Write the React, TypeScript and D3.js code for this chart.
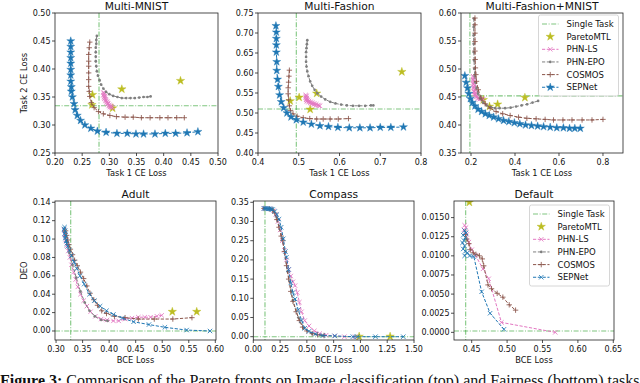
import React, { useEffect } from 'react';
import * as d3 from 'd3';

type Pt = [number, number];
type MarkerType = 'star' | 'x' | 'plus' | 'dot';

// ---------------- Multi-MNIST ----------------
const mnistSingle: Pt = [0.281, 0.3345];
const mnistPareto: Pt[] = [[0.269, 0.354], [0.268, 0.336], [0.306, 0.330], [0.323, 0.364], [0.431, 0.379]];
const mnistLS: Pt[] = [[0.289, 0.358], [0.291, 0.357], [0.290, 0.355], [0.289, 0.353], [0.292, 0.352], [0.290, 0.350], [0.292, 0.349], [0.291, 0.347], [0.293, 0.346], [0.294, 0.344], [0.293, 0.343], [0.296, 0.342], [0.295, 0.340], [0.297, 0.339], [0.298, 0.338], [0.297, 0.337], [0.300, 0.336], [0.299, 0.334], [0.302, 0.334], [0.301, 0.332], [0.304, 0.333], [0.303, 0.331], [0.306, 0.331]];
const mnistEPO: Pt[] = [[0.277, 0.459], [0.276, 0.452], [0.276, 0.445], [0.275, 0.438], [0.275, 0.430], [0.275, 0.422], [0.275, 0.414], [0.276, 0.405], [0.277, 0.396], [0.279, 0.388], [0.282, 0.380], [0.285, 0.372], [0.289, 0.365], [0.294, 0.359], [0.300, 0.355], [0.307, 0.352], [0.315, 0.350], [0.323, 0.348], [0.331, 0.348], [0.339, 0.348], [0.347, 0.348], [0.355, 0.349], [0.363, 0.350], [0.370, 0.350], [0.376, 0.351]];
const mnistCOS: Pt[] = [[0.264, 0.448], [0.263, 0.438], [0.262, 0.426], [0.262, 0.414], [0.262, 0.405], [0.262, 0.393], [0.262, 0.381], [0.262, 0.369], [0.263, 0.360], [0.264, 0.351], [0.267, 0.340], [0.272, 0.331], [0.280, 0.324], [0.289, 0.320], [0.301, 0.317], [0.313, 0.315], [0.329, 0.314], [0.344, 0.314], [0.359, 0.313], [0.375, 0.313], [0.393, 0.313], [0.408, 0.313], [0.424, 0.313], [0.438, 0.313]];
const mnistSEP: Pt[] = [[0.229, 0.450], [0.229, 0.440], [0.229, 0.430], [0.229, 0.420], [0.229, 0.410], [0.229, 0.399], [0.229, 0.389], [0.229, 0.378], [0.230, 0.368], [0.230, 0.360], [0.232, 0.350], [0.235, 0.338], [0.237, 0.327], [0.241, 0.317], [0.247, 0.308], [0.255, 0.300], [0.266, 0.294], [0.278, 0.289], [0.294, 0.287], [0.314, 0.285], [0.333, 0.285], [0.349, 0.284], [0.363, 0.284], [0.384, 0.284], [0.403, 0.285], [0.422, 0.285], [0.443, 0.286], [0.463, 0.288]];
const mnistXTicks = [0.2, 0.25, 0.3, 0.35, 0.4, 0.45, 0.5];
const mnistYTicks = [0.25, 0.3, 0.35, 0.4, 0.45, 0.5];

// ---------------- Multi-Fashion ----------------
const fashionSingle: Pt = [0.494, 0.51];
const fashionPareto: Pt[] = [[0.479, 0.530], [0.501, 0.539], [0.544, 0.549], [0.528, 0.509], [0.753, 0.603]];
const fashionLS: Pt[] = [[0.517, 0.545], [0.519, 0.543], [0.518, 0.541], [0.517, 0.538], [0.520, 0.537], [0.519, 0.535], [0.518, 0.533], [0.522, 0.533], [0.521, 0.531], [0.520, 0.529], [0.525, 0.530], [0.524, 0.527], [0.529, 0.528], [0.528, 0.525], [0.533, 0.526], [0.532, 0.523], [0.538, 0.524], [0.537, 0.521], [0.543, 0.522], [0.542, 0.519], [0.548, 0.520], [0.549, 0.518], [0.552, 0.518]];
const fashionEPO: Pt[] = [[0.521, 0.682], [0.520, 0.672], [0.519, 0.662], [0.518, 0.652], [0.518, 0.640], [0.518, 0.628], [0.519, 0.616], [0.521, 0.604], [0.524, 0.592], [0.528, 0.579], [0.533, 0.568], [0.539, 0.558], [0.546, 0.549], [0.555, 0.541], [0.565, 0.534], [0.577, 0.528], [0.590, 0.524], [0.604, 0.521], [0.618, 0.519], [0.633, 0.518], [0.648, 0.518], [0.663, 0.518], [0.677, 0.519], [0.683, 0.519]];
const fashionCOS: Pt[] = [[0.477, 0.607], [0.476, 0.592], [0.475, 0.577], [0.474, 0.563], [0.474, 0.548], [0.475, 0.533], [0.477, 0.518], [0.480, 0.506], [0.486, 0.498], [0.496, 0.492], [0.511, 0.488], [0.527, 0.486], [0.544, 0.485], [0.560, 0.485], [0.577, 0.485], [0.597, 0.485], [0.622, 0.486]];
const fashionSEP: Pt[] = [[0.444, 0.718], [0.445, 0.702], [0.445, 0.686], [0.445, 0.670], [0.445, 0.652], [0.446, 0.628], [0.446, 0.606], [0.448, 0.584], [0.450, 0.566], [0.453, 0.545], [0.457, 0.528], [0.463, 0.513], [0.471, 0.500], [0.481, 0.490], [0.494, 0.483], [0.511, 0.477], [0.531, 0.472], [0.552, 0.468], [0.573, 0.466], [0.596, 0.464], [0.624, 0.463], [0.650, 0.463], [0.675, 0.463], [0.700, 0.464], [0.726, 0.464], [0.757, 0.465]];
const fashionXTicks = [0.4, 0.5, 0.6, 0.7, 0.8];
const fashionYTicks = [0.4, 0.45, 0.5, 0.55, 0.6, 0.65, 0.7, 0.75];

// ---------------- Multi-Fashion+MNIST ----------------
const fmSingle: Pt = [0.195, 0.452];
const fmPareto: Pt[] = [[0.256, 0.445], [0.284, 0.433], [0.321, 0.437], [0.445, 0.449]];
const fmLS: Pt[] = [[0.210, 0.487], [0.213, 0.485], [0.211, 0.482], [0.210, 0.480], [0.214, 0.478], [0.212, 0.475], [0.211, 0.473], [0.215, 0.471], [0.213, 0.468], [0.212, 0.466], [0.216, 0.464], [0.215, 0.461], [0.214, 0.459], [0.219, 0.458], [0.218, 0.455], [0.217, 0.454], [0.223, 0.453], [0.222, 0.450], [0.229, 0.450], [0.230, 0.447], [0.238, 0.448], [0.240, 0.446], [0.250, 0.447], [0.255, 0.446]];
const fmEPO: Pt[] = [[0.213, 0.590], [0.212, 0.575], [0.212, 0.560], [0.212, 0.545], [0.213, 0.530], [0.214, 0.515], [0.215, 0.500], [0.217, 0.488], [0.220, 0.476], [0.225, 0.466], [0.232, 0.456], [0.242, 0.447], [0.255, 0.440], [0.271, 0.435], [0.290, 0.432], [0.310, 0.430], [0.330, 0.430], [0.355, 0.430], [0.380, 0.431], [0.405, 0.433], [0.430, 0.435], [0.455, 0.437], [0.480, 0.440], [0.505, 0.443]];
const fmCOS: Pt[] = [[0.218, 0.591], [0.218, 0.579], [0.218, 0.564], [0.218, 0.549], [0.218, 0.532], [0.219, 0.517], [0.220, 0.502], [0.222, 0.490], [0.225, 0.478], [0.233, 0.463], [0.246, 0.448], [0.264, 0.438], [0.287, 0.430], [0.314, 0.424], [0.344, 0.420], [0.378, 0.417], [0.416, 0.414], [0.454, 0.412], [0.496, 0.411], [0.537, 0.410], [0.575, 0.409], [0.618, 0.409], [0.659, 0.409], [0.705, 0.409], [0.750, 0.409], [0.800, 0.410]];
const fmSEP: Pt[] = [[0.172, 0.488], [0.178, 0.476], [0.184, 0.466], [0.190, 0.456], [0.197, 0.447], [0.206, 0.440], [0.218, 0.434], [0.232, 0.428], [0.248, 0.424], [0.265, 0.420], [0.283, 0.417], [0.303, 0.414], [0.325, 0.411], [0.348, 0.408], [0.372, 0.406], [0.397, 0.404], [0.422, 0.402], [0.448, 0.400], [0.475, 0.399], [0.503, 0.398], [0.530, 0.397], [0.560, 0.396], [0.590, 0.395], [0.620, 0.395], [0.648, 0.394], [0.672, 0.394], [0.697, 0.394]];
const fmXTicks = [0.2, 0.4, 0.6, 0.8];
const fmYTicks = [0.35, 0.4, 0.45, 0.5, 0.55, 0.6];

// ---------------- Adult ----------------
const adultSingle: Pt = [0.3276, 0.0];
const adultPareto: Pt[] = [[0.519, 0.021], [0.565, 0.021]];
const adultLS: Pt[] = [[0.315, 0.110], [0.316, 0.105], [0.318, 0.099], [0.320, 0.093], [0.323, 0.087], [0.326, 0.080], [0.329, 0.072], [0.333, 0.064], [0.337, 0.056], [0.341, 0.048], [0.346, 0.040], [0.352, 0.033], [0.358, 0.027], [0.365, 0.021], [0.374, 0.016], [0.385, 0.013], [0.396, 0.012], [0.408, 0.011], [0.418, 0.011], [0.430, 0.013], [0.443, 0.014], [0.455, 0.015], [0.467, 0.015], [0.478, 0.015], [0.490, 0.016], [0.499, 0.017]];
const adultEPO: Pt[] = [[0.316, 0.108], [0.320, 0.098], [0.325, 0.085], [0.331, 0.072], [0.338, 0.058], [0.346, 0.043], [0.354, 0.031], [0.363, 0.022], [0.373, 0.016], [0.385, 0.012], [0.397, 0.011]];
const adultCOS: Pt[] = [[0.318, 0.109], [0.320, 0.104], [0.322, 0.099], [0.324, 0.094], [0.327, 0.089], [0.331, 0.083], [0.335, 0.077], [0.340, 0.071], [0.346, 0.064], [0.352, 0.057], [0.358, 0.049], [0.364, 0.041], [0.371, 0.034], [0.378, 0.028], [0.386, 0.022], [0.395, 0.019], [0.410, 0.016], [0.430, 0.0145], [0.455, 0.013], [0.485, 0.013], [0.520, 0.013], [0.556, 0.0145]];
const adultSEP: Pt[] = [[0.316, 0.113], [0.315, 0.111], [0.317, 0.109], [0.316, 0.106], [0.318, 0.104], [0.317, 0.101], [0.319, 0.098], [0.320, 0.095], [0.322, 0.092], [0.325, 0.088], [0.329, 0.082], [0.334, 0.075], [0.339, 0.068], [0.345, 0.060], [0.353, 0.051], [0.363, 0.040], [0.372, 0.033], [0.383, 0.027], [0.395, 0.022], [0.408, 0.018], [0.425, 0.014], [0.446, 0.010], [0.475, 0.007], [0.505, 0.004], [0.546, 0.001], [0.590, 0.000]];
const adultXTicks = [0.3, 0.35, 0.4, 0.45, 0.5, 0.55, 0.6];
const adultYTicks = [0, 0.02, 0.04, 0.06, 0.08, 0.1, 0.12, 0.14];

// ---------------- Compass ----------------
const compassSingle: Pt = [0.109, 0.0];
const compassPareto: Pt[] = [[0.988, 0.0005], [1.277, 0.0005]];
const compassLS: Pt[] = [[0.10, 0.334], [0.15, 0.333], [0.19, 0.328], [0.21, 0.318], [0.23, 0.300], [0.25, 0.278], [0.27, 0.250], [0.29, 0.225], [0.31, 0.200], [0.33, 0.175], [0.35, 0.158], [0.37, 0.143], [0.39, 0.133], [0.41, 0.115], [0.43, 0.090], [0.45, 0.065], [0.48, 0.042], [0.52, 0.028], [0.57, 0.015], [0.62, 0.008], [0.68, 0.004], [0.76, 0.002], [0.85, 0.000], [0.95, 0.000]];
const compassEPO: Pt[] = [[0.10, 0.334], [0.18, 0.331], [0.22, 0.310], [0.27, 0.255], [0.32, 0.170], [0.37, 0.095], [0.42, 0.050], [0.47, 0.022], [0.55, 0.008], [0.65, 0.003]];
const compassCOS: Pt[] = [[0.10, 0.334], [0.15, 0.333], [0.18, 0.330], [0.20, 0.322], [0.22, 0.305], [0.24, 0.285], [0.26, 0.262], [0.275, 0.250], [0.29, 0.222], [0.31, 0.185], [0.33, 0.150], [0.35, 0.118], [0.37, 0.092], [0.40, 0.065], [0.43, 0.042], [0.46, 0.025], [0.50, 0.015], [0.55, 0.008], [0.60, 0.005], [0.66, 0.003]];
const compassSEP: Pt[] = [[0.10, 0.334], [0.11, 0.334], [0.12, 0.334], [0.13, 0.334], [0.14, 0.333], [0.15, 0.333], [0.16, 0.333], [0.17, 0.332], [0.18, 0.331], [0.20, 0.326], [0.22, 0.318], [0.24, 0.306], [0.26, 0.285], [0.28, 0.255], [0.30, 0.222], [0.31, 0.207], [0.33, 0.175], [0.35, 0.140], [0.37, 0.115], [0.39, 0.098], [0.42, 0.070], [0.45, 0.043], [0.48, 0.022], [0.52, 0.014], [0.58, 0.007], [0.65, 0.003], [0.76, 0.002], [0.93, 0.000], [0.97, 0.000], [1.14, 0.000], [1.40, 0.000]];
const compassXTicks = [0, 0.25, 0.5, 0.75, 1.0, 1.25, 1.5];
const compassYTicks = [0, 0.05, 0.1, 0.15, 0.2, 0.25, 0.3, 0.35];

// ---------------- Default ----------------
const defaultSingle: Pt = [0.4415, 0.00017];
const defaultPareto: Pt[] = [[0.4467, 0.0170]];
const defaultLS: Pt[] = [[0.440, 0.0140], [0.442, 0.0137], [0.439, 0.0134], [0.441, 0.0131], [0.443, 0.0128], [0.446, 0.0118], [0.450, 0.0108], [0.455, 0.0101], [0.466, 0.0083], [0.474, 0.0070], [0.492, 0.0013], [0.568, 0.0000]];
const defaultEPO: Pt[] = [];
const defaultCOS: Pt[] = [[0.441, 0.0128], [0.443, 0.0122], [0.446, 0.0116], [0.448, 0.0108], [0.452, 0.0104], [0.456, 0.0102], [0.461, 0.0100], [0.465, 0.0096], [0.467, 0.0087], [0.473, 0.0062], [0.478, 0.0057], [0.486, 0.0051], [0.494, 0.0046], [0.503, 0.0036], [0.512, 0.0029]];
const defaultSEP: Pt[] = [[0.440, 0.0133], [0.442, 0.0130], [0.438, 0.0127], [0.441, 0.0124], [0.439, 0.0120], [0.437, 0.0117], [0.440, 0.0113], [0.438, 0.0109], [0.441, 0.0106], [0.440, 0.0100], [0.444, 0.0104], [0.447, 0.0100], [0.453, 0.0099], [0.464, 0.0053], [0.476, 0.0025], [0.4956, 0.0004]];
const defaultXTicks = [0.45, 0.5, 0.55, 0.6, 0.65];
const defaultYTicks = [0, 0.0025, 0.005, 0.0075, 0.01, 0.0125, 0.015];

const legendNames = ['Single Task', 'ParetoMTL', 'PHN-LS', 'PHN-EPO', 'COSMOS', 'SEPNet'];

const C = {
  single: '#2ca02c',
  pareto: '#bcbd22',
  ls: '#e377c2',
  epo: '#7f7f7f',
  cosmos: '#8c564b',
  sep: '#1f77b4',
};

const FONT = 'DejaVu Sans, sans-serif';

interface PanelDef {
  id: string;
  title: string;
  x0: number; x1: number; y0: number; y1: number;
  xDom: [number, number]; yDom: [number, number];
  xTicks: number[]; yTicks: number[];
  xFmt: string; yFmt: string;
  xLabel: string; yLabel?: string;
  single: Pt; pareto: Pt[]; ls: Pt[]; epo: Pt[]; cosmos: Pt[]; sep: Pt[];
  sepMarker: MarkerType;
  legend?: { x: number; y: number };
}

const panels: PanelDef[] = [
  { id: 'p1', title: 'Multi-MNIST', x0: 55, x1: 218, y0: 13, y1: 153, xDom: [0.2, 0.5], yDom: [0.25, 0.5], xTicks: mnistXTicks, yTicks: mnistYTicks, xFmt: '.2f', yFmt: '.2f', xLabel: 'Task 1 CE Loss', yLabel: 'Task 2 CE Loss', single: mnistSingle, pareto: mnistPareto, ls: mnistLS, epo: mnistEPO, cosmos: mnistCOS, sep: mnistSEP, sepMarker: 'star' },
  { id: 'p2', title: 'Multi-Fashion', x0: 258, x1: 421, y0: 13, y1: 153, xDom: [0.4, 0.8], yDom: [0.4, 0.75], xTicks: fashionXTicks, yTicks: fashionYTicks, xFmt: '.1f', yFmt: '.2f', xLabel: 'Task 1 CE Loss', single: fashionSingle, pareto: fashionPareto, ls: fashionLS, epo: fashionEPO, cosmos: fashionCOS, sep: fashionSEP, sepMarker: 'star' },
  { id: 'p3', title: 'Multi-Fashion+MNIST', x0: 461, x1: 623, y0: 13, y1: 153, xDom: [0.1545, 0.891], yDom: [0.35, 0.6], xTicks: fmXTicks, yTicks: fmYTicks, xFmt: '.1f', yFmt: '.2f', xLabel: 'Task 1 CE Loss', single: fmSingle, pareto: fmPareto, ls: fmLS, epo: fmEPO, cosmos: fmCOS, sep: fmSEP, sepMarker: 'star', legend: { x: 538.5, y: 15 } },
  { id: 'p4', title: 'Adult', x0: 55, x1: 216, y0: 201, y1: 340, xDom: [0.298, 0.6013], yDom: [-0.0098, 0.1414], xTicks: adultXTicks, yTicks: adultYTicks, xFmt: '.2f', yFmt: '.2f', xLabel: 'BCE Loss', yLabel: 'DEO', single: adultSingle, pareto: adultPareto, ls: adultLS, epo: adultEPO, cosmos: adultCOS, sep: adultSEP, sepMarker: 'x' },
  { id: 'p5', title: 'Compass', x0: 253.3, x1: 414, y0: 201, y1: 340, xDom: [0, 1.5], yDom: [-0.0086, 0.3534], xTicks: compassXTicks, yTicks: compassYTicks, xFmt: '.2f', yFmt: '.2f', xLabel: 'BCE Loss', single: compassSingle, pareto: compassPareto, ls: compassLS, epo: compassEPO, cosmos: compassCOS, sep: compassSEP, sepMarker: 'x' },
  { id: 'p6', title: 'Default', x0: 454, x1: 614, y0: 201, y1: 340, xDom: [0.425, 0.651], yDom: [-0.001, 0.01717], xTicks: defaultXTicks, yTicks: defaultYTicks, xFmt: '.2f', yFmt: '.4f', xLabel: 'BCE Loss', single: defaultSingle, pareto: defaultPareto, ls: defaultLS, epo: defaultEPO, cosmos: defaultCOS, sep: defaultSEP, sepMarker: 'x', legend: { x: 529.5, y: 205 } },
];

const starPath = d3.symbol().type(d3.symbolStar).size(20)() as string;
const paretoStarPath = d3.symbol().type(d3.symbolStar).size(22)() as string;

function Marker({ type, x, y, color, pareto }: { type: MarkerType; x: number; y: number; color: string; pareto?: boolean }) {
  if (type === 'star') {
    return <path d={pareto ? paretoStarPath : starPath} transform={`translate(${x},${y})`} fill={color} stroke={color} strokeWidth={0.4} />;
  }
  if (type === 'x') {
    const s = 2.2;
    return <path d={`M${x - s},${y - s}L${x + s},${y + s}M${x - s},${y + s}L${x + s},${y - s}`} stroke={color} strokeWidth={0.85} fill="none" />;
  }
  if (type === 'plus') {
    const s = 2.7;
    return <path d={`M${x - s},${y}L${x + s},${y}M${x},${y - s}L${x},${y + s}`} stroke={color} strokeWidth={0.85} fill="none" />;
  }
  return <circle cx={x} cy={y} r={1.35} fill={color} />;
}

const DASH = '3.2,1.6';
const DASHDOT = '5,1.6,1,1.6';

function Panel({ p }: { p: PanelDef }) {
  const xs = d3.scaleLinear().domain(p.xDom).range([p.x0, p.x1]);
  const ys = d3.scaleLinear().domain(p.yDom).range([p.y1, p.y0]);
  const line = d3.line<Pt>().x((d) => xs(d[0])).y((d) => ys(d[1]));
  const xf = d3.format(p.xFmt);
  const yf = d3.format(p.yFmt);
  const series = [
    { data: p.ls, color: C.ls, marker: 'x' as MarkerType },
    { data: p.epo, color: C.epo, marker: 'dot' as MarkerType },
    { data: p.cosmos, color: C.cosmos, marker: 'plus' as MarkerType },
    { data: p.sep, color: C.sep, marker: p.sepMarker },
  ];
  const cx = (p.x0 + p.x1) / 2;
  const cy = (p.y0 + p.y1) / 2;
  const legendMarkers: (MarkerType | null)[] = [null, 'star', 'x', 'dot', 'plus', p.sepMarker];
  const legendColors = [C.single, C.pareto, C.ls, C.epo, C.cosmos, C.sep];
  return (
    <g>
      <defs>
        <clipPath id={`clip-${p.id}`}>
          <rect x={p.x0} y={p.y0} width={p.x1 - p.x0} height={p.y1 - p.y0} />
        </clipPath>
      </defs>
      <g clipPath={`url(#clip-${p.id})`}>
        <line x1={xs(p.single[0])} x2={xs(p.single[0])} y1={p.y0} y2={p.y1} stroke={C.single} strokeOpacity={0.6} strokeWidth={1.1} strokeDasharray={DASHDOT} />
        <line x1={p.x0} x2={p.x1} y1={ys(p.single[1])} y2={ys(p.single[1])} stroke={C.single} strokeOpacity={0.6} strokeWidth={1.1} strokeDasharray={DASHDOT} />
        {p.pareto.map((d, i) => (
          <Marker key={`pa${i}`} type="star" x={xs(d[0])} y={ys(d[1])} color={C.pareto} pareto />
        ))}
        {series.map((s, si) => (
          <g key={si}>
            {s.data.length > 1 && <path d={line(s.data) || ''} fill="none" stroke={s.color} strokeWidth={1} strokeDasharray={DASH} />}
            {s.data.map((d, i) => (
              <Marker key={i} type={s.marker} x={xs(d[0])} y={ys(d[1])} color={s.color} />
            ))}
          </g>
        ))}
      </g>
      <rect x={p.x0} y={p.y0} width={p.x1 - p.x0} height={p.y1 - p.y0} fill="none" stroke="#222" strokeWidth={0.8} />
      {p.xTicks.map((t, i) => (
        <g key={`xt${i}`}>
          <line x1={xs(t)} x2={xs(t)} y1={p.y1} y2={p.y1 + 3} stroke="#222" strokeWidth={0.8} />
          <text x={xs(t)} y={p.y1 + 9} textAnchor="middle" dominantBaseline="central" fontSize={8} fontFamily={FONT} fill="#111">{xf(t)}</text>
        </g>
      ))}
      {p.yTicks.map((t, i) => (
        <g key={`yt${i}`}>
          <line x1={p.x0 - 3} x2={p.x0} y1={ys(t)} y2={ys(t)} stroke="#222" strokeWidth={0.8} />
          <text x={p.x0 - 4.5} y={ys(t)} textAnchor="end" dominantBaseline="central" fontSize={8} fontFamily={FONT} fill="#111">{yf(t)}</text>
        </g>
      ))}
      <text x={cx} y={p.y0 - 7} textAnchor="middle" dominantBaseline="central" fontSize={10.7} fontFamily={FONT} fill="#111">{p.title}</text>
      <text x={cx} y={p.y1 + 20} textAnchor="middle" dominantBaseline="central" fontSize={8.3} fontFamily={FONT} fill="#111">{p.xLabel}</text>
      {p.yLabel && (
        <text transform={`translate(24,${cy}) rotate(-90)`} textAnchor="middle" dominantBaseline="central" fontSize={8.3} fontFamily={FONT} fill="#111">{p.yLabel}</text>
      )}
      {p.legend && (
        <g>
          <rect x={p.legend.x} y={p.legend.y} width={80} height={81} fill="#fff" fillOpacity={0.8} stroke="#ccc" strokeWidth={0.8} rx={2} />
          {legendNames.map((name, i) => {
            const ly = p.legend!.y + 9 + i * 12.65;
            const lx0 = p.legend!.x + 3.5;
            const lx1 = p.legend!.x + 20;
            const mk = legendMarkers[i];
            return (
              <g key={name}>
                {i !== 1 && (
                  <line x1={lx0} x2={lx1} y1={ly} y2={ly} stroke={legendColors[i]} strokeOpacity={i === 0 ? 0.6 : 1} strokeWidth={i === 0 ? 1.1 : 1} strokeDasharray={i === 0 ? DASHDOT : DASH} />
                )}
                {mk && <Marker type={mk} x={(lx0 + lx1) / 2} y={ly} color={legendColors[i]} pareto={i === 1} />}
                <text x={p.legend!.x + 28} y={ly} dominantBaseline="central" fontSize={8.5} fontFamily={FONT} fill="#111">{name}</text>
              </g>
            );
          })}
        </g>
      )}
    </g>
  );
}

export default function App() {
  useEffect(() => {
    document.body.style.margin = '0';
  }, []);
  return (
    <svg width={640} height={383} viewBox="0 0 640 383" style={{ display: 'block', position: 'absolute', left: 0, top: 0, background: '#fff' }}>
      <rect x={0} y={0} width={640} height={383} fill="#fff" />
      {panels.map((p) => (
        <Panel key={p.id} p={p} />
      ))}
      <text x={0} y={386} fontSize={16} fontFamily="Liberation Serif, serif" fill="#111">
        <tspan fontWeight="bold">Figure 3:</tspan> Comparison of the Pareto fronts on Image classification (top) and Fairness (bottom) tasks
      </text>
    </svg>
  );
}
